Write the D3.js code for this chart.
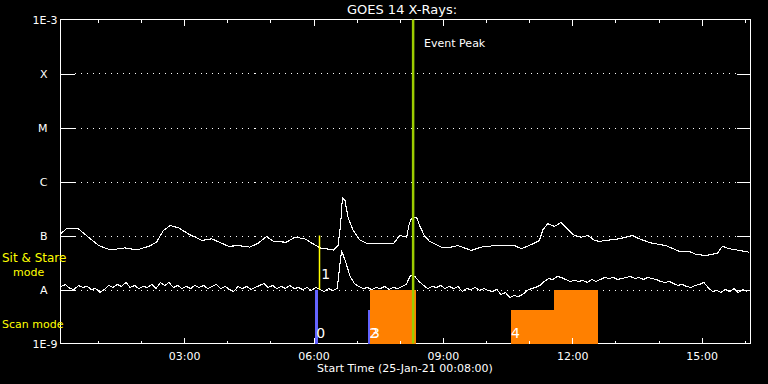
<!DOCTYPE html>
<html>
<head>
<meta charset="utf-8">
<script src="https://cdn.jsdelivr.net/npm/d3@7"></script>
<style>
  html, body { margin: 0; padding: 0; background: #000; }
  svg { display: block; }
  text { font-family: "DejaVu Sans", sans-serif; fill: #fff; }
</style>
</head>
<body>
<script>
// ---------- DATA ----------
// time axis: hours since 25-Jan-21 00:00 UT
const startHour = 8 / 60;           // 00:08:00
const spanHours = 16;
const majorTickHours = [3, 6, 9, 12, 15];
const majorTickLabels = ["03:00", "06:00", "09:00", "12:00", "15:00"];
const minorTickHours = [1, 2, 4, 5, 7, 8, 10, 11, 13, 14, 16];

// flux levels (W/m^2)
const levelValues = [1e-8, 1e-7, 1e-6, 1e-5, 1e-4];
const levelLabels = ["A", "B", "C", "M", "X"];
const endValues = [1e-9, 1e-3];
const endLabels = ["1E-9", "1E-3"];

// GOES 14 long channel (1-8 A)
const longTimes = [0.15,0.27,0.55,0.78,1.02,1.29,1.63,1.90,2.18,2.36,2.52,2.68,2.87,3.10,3.41,3.64,3.87,4.03,4.26,4.52,
  4.72,4.91,5.07,5.37,5.57,5.80,5.99,6.15,6.46,6.57,6.63,6.67,6.73,6.80,6.92,7.07,7.23,7.46,7.85,8.00,
  8.16,8.22,8.27,8.39,8.46,8.57,8.69,8.96,9.11,9.35,9.66,9.89,10.20,10.66,10.82,11.05,11.24,11.32,11.43,11.59,
  11.74,11.90,12.05,12.21,12.36,12.52,12.63,13.09,13.40,13.55,13.82,14.17,14.48,14.71,14.87,15.10,15.37,15.48,15.64,15.87,16.10];
const longFlux = [1.10e-7,1.33e-7,1.33e-7,9.3e-8,6.5e-8,5.4e-8,5.9e-8,5.4e-8,6.3e-8,7.5e-8,1.24e-7,1.53e-7,1.39e-7,1.07e-7,8.1e-8,8.7e-8,7.2e-8,6.3e-8,6.5e-8,6.1e-8,
  7.2e-8,9.6e-8,7.8e-8,7.5e-8,9.3e-8,8.7e-8,7.0e-8,5.9e-8,5.4e-8,6.5e-8,1.65e-7,4.99e-7,4.45e-7,2.18e-7,1.24e-7,8.3e-8,7.2e-8,7.2e-8,7.0e-8,1.0e-7,
  9.3e-8,1.65e-7,2.04e-7,2.18e-7,1.53e-7,1.0e-7,7.8e-8,6.1e-8,5.9e-8,6.5e-8,5.3e-8,6.1e-8,6.5e-8,6.5e-8,5.7e-8,6.8e-8,8.1e-8,1.28e-7,1.65e-7,1.47e-7,
  1.76e-7,1.28e-7,1.0e-7,9.3e-8,1.0e-7,8.1e-8,7.8e-8,8.7e-8,1.0e-7,8.7e-8,7.3e-8,6.5e-8,5.1e-8,5.1e-8,4.45e-8,4.26e-8,4.7e-8,6.3e-8,5.7e-8,5.3e-8,4.9e-8];

// GOES 14 short channel (0.5-4 A), one sample every 6 minutes from 00:09
const shortStart = 0.15;
const shortStep = 0.1;
const shortFlux = [
  1.14e-8,1.24e-8,1.04e-8,1.00e-8,1.19e-8,1.09e-8,1.14e-8,1.00e-8,1.04e-8,0.88e-8,
  1.00e-8,1.19e-8,1.09e-8,1.24e-8,1.14e-8,1.35e-8,1.09e-8,1.19e-8,1.04e-8,1.14e-8,
  1.09e-8,1.24e-8,1.04e-8,1.35e-8,1.19e-8,1.35e-8,1.09e-8,1.19e-8,1.04e-8,1.14e-8,
  1.04e-8,1.19e-8,1.09e-8,1.19e-8,1.04e-8,1.14e-8,1.24e-8,1.04e-8,1.14e-8,1.00e-8,
  0.918e-8,1.14e-8,1.04e-8,1.14e-8,1.00e-8,1.09e-8,1.19e-8,1.29e-8,1.09e-8,1.19e-8,
  1.04e-8,1.14e-8,1.04e-8,1.19e-8,1.04e-8,1.09e-8,1.00e-8,1.09e-8,0.957e-8,1.09e-8,
  1.00e-8,0.918e-8,1.04e-8,0.957e-8,1.04e-8,5.27e-8,3.16e-8,1.74e-8,1.29e-8,1.14e-8,
  1.04e-8,1.09e-8,1.00e-8,1.09e-8,1.04e-8,1.14e-8,1.00e-8,1.09e-8,1.04e-8,1.14e-8,
  1.24e-8,1.82e-8,1.74e-8,1.41e-8,1.19e-8,1.04e-8,1.14e-8,1.09e-8,1.19e-8,1.04e-8,
  1.14e-8,1.04e-8,1.14e-8,0.918e-8,1.04e-8,1.00e-8,1.09e-8,0.957e-8,1.04e-8,0.957e-8,
  0.918e-8,1.00e-8,0.808e-8,0.88e-8,0.711e-8,0.774e-8,0.742e-8,0.808e-8,0.957e-8,1.04e-8,
  1.09e-8,1.19e-8,1.41e-8,1.60e-8,1.53e-8,1.74e-8,1.67e-8,1.53e-8,1.41e-8,1.47e-8,
  1.41e-8,1.47e-8,1.35e-8,1.53e-8,1.41e-8,1.53e-8,1.67e-8,1.60e-8,1.67e-8,1.53e-8,
  1.60e-8,1.67e-8,1.74e-8,1.60e-8,1.67e-8,1.53e-8,1.67e-8,1.60e-8,1.53e-8,1.41e-8,
  1.35e-8,1.41e-8,1.29e-8,1.19e-8,1.24e-8,1.14e-8,1.09e-8,1.19e-8,1.24e-8,1.35e-8,
  1.09e-8,0.918e-8,0.957e-8,0.88e-8,1.00e-8,0.918e-8,1.04e-8,0.88e-8,1.00e-8,0.918e-8];

// event peak
const eventPeakHour = 8.31;
const eventPeakLabel = "Event Peak";

// sit & stare marker (number, hour, flux range)
const stareLabels = ["1"];
const stareHours = [6.12];
const stareLow = [1e-8];
const stareHigh = [1e-7];

// narrow observation bars (blue)
const barLabels = ["0", "2"];
const barStart = [6.04, 7.27];
const barEnd = [6.11, 7.32];
const barTop = [1e-8, 4.1e-9];

// observation blocks (orange)
const blockLabels = ["3", "4", ""];
const blockStart = [7.32, 10.57, 11.57];
const blockEnd = [8.37, 11.57, 12.60];
const blockTop = [1e-8, 4.1e-9, 1e-8];

const titleText = "GOES 14 X-Rays:";
const xTitleText = "Start Time (25-Jan-21 00:08:00)";

// ---------- DRAW ----------
const W = 768, H = 384;
const L = 60.5, R = 750.5, T = 19.5, B = 343.5;

const svg = d3.select("body").append("svg").attr("width", W).attr("height", H)
  .style("background", "#000");

const x = d3.scaleLinear().domain([startHour, startHour + spanHours]).range([L, R]);
const y = d3.scaleLog().domain([1e-9, 1e-3]).range([B, T]);

// frame
svg.append("rect").attr("x", L).attr("y", T).attr("width", R - L).attr("height", B - T)
  .attr("fill", "none").attr("stroke", "#fff").attr("stroke-width", 1)
  .attr("shape-rendering", "crispEdges");

// dotted grid lines
svg.append("g").selectAll("line").data(levelValues).join("line")
  .attr("x1", L + 14).attr("x2", R - 14)
  .attr("y1", d => Math.round(y(d)) + 0.5).attr("y2", d => Math.round(y(d)) + 0.5)
  .attr("stroke", "#fff").attr("stroke-width", 1).attr("stroke-dasharray", "1,5")
  .attr("shape-rendering", "crispEdges");

// curves
svg.append("clipPath").attr("id", "clip").append("rect")
  .attr("x", L).attr("y", T).attr("width", R - L).attr("height", B - T);

const line = d3.line().x(d => x(d[0])).y(d => y(d[1]));
const longData = longTimes.map((t, i) => [t, longFlux[i]]);
const shortData = shortFlux.map((f, i) => [shortStart + i * shortStep, f]);

const curves = svg.append("g").attr("clip-path", "url(#clip)");
[longData, shortData].forEach(dat => {
  curves.append("path").datum(dat).attr("d", line)
    .attr("fill", "none").attr("stroke", "#fff").attr("stroke-width", 1.1)
    .attr("shape-rendering", "crispEdges");
});

// sit & stare marker
stareHours.forEach((h, i) => {
  svg.append("line").attr("x1", Math.round(x(h)) + 0.5).attr("x2", Math.round(x(h)) + 0.5)
    .attr("y1", y(stareHigh[i])).attr("y2", y(stareLow[i]))
    .attr("stroke", "#ffff00").attr("stroke-width", 1.5);
  svg.append("text").attr("x", x(h) + 2.5).attr("y", y(stareLow[i]) - 11)
    .attr("font-size", 14).text(stareLabels[i]);
});

// orange blocks
blockStart.forEach((s, i) => {
  svg.append("rect").attr("x", x(s)).attr("y", y(blockTop[i]))
    .attr("width", x(blockEnd[i]) - x(s)).attr("height", B + 0.5 - y(blockTop[i]))
    .attr("fill", "#ff8000").attr("shape-rendering", "crispEdges");
});
// blue bars
barStart.forEach((s, i) => {
  svg.append("rect").attr("x", x(s)).attr("y", y(barTop[i]))
    .attr("width", x(barEnd[i]) - x(s)).attr("height", B + 0.5 - y(barTop[i]))
    .attr("fill", "#6464ff").attr("shape-rendering", "crispEdges");
});

// axes ticks
const xMinor = d3.axisBottom(x).tickValues(minorTickHours).tickSize(-3).tickFormat("");
const xMajor = d3.axisBottom(x).tickValues(majorTickHours).tickSize(-6).tickPadding(9)
  .tickFormat((d, i) => majorTickLabels[i]);
const xMinorTop = d3.axisTop(x).tickValues(minorTickHours).tickSize(-3).tickFormat("");
const xMajorTop = d3.axisTop(x).tickValues(majorTickHours).tickSize(-6).tickFormat("");
const yLeft = d3.axisLeft(y).tickValues(levelValues).tickSize(-14).tickPadding(13)
  .tickFormat((d, i) => levelLabels[i]);
const yEnds = d3.axisLeft(y).tickValues(endValues).tickSize(0).tickPadding(3)
  .tickFormat((d, i) => endLabels[i]);
const yRight = d3.axisRight(y).tickValues(levelValues).tickSize(-14).tickFormat("");

function styleAxis(g) {
  g.select(".domain").remove();
  g.selectAll("line").attr("stroke", "#fff").attr("shape-rendering", "crispEdges");
  g.selectAll("text").attr("fill", "#fff").attr("font-family", "DejaVu Sans").attr("font-size", 11);
}
svg.append("g").attr("transform", `translate(0,${B})`).call(xMinor).call(styleAxis);
svg.append("g").attr("transform", `translate(0,${B})`).call(xMajor).call(styleAxis);
svg.append("g").attr("transform", `translate(0,${T})`).call(xMinorTop).call(styleAxis);
svg.append("g").attr("transform", `translate(0,${T})`).call(xMajorTop).call(styleAxis);
svg.append("g").attr("transform", `translate(${L},0)`).call(yLeft).call(styleAxis);
svg.append("g").attr("transform", `translate(${L},0)`).call(yEnds).call(styleAxis);
svg.append("g").attr("transform", `translate(${R},0)`).call(yRight).call(styleAxis);

// event peak line
svg.append("line").attr("x1", x(eventPeakHour)).attr("x2", x(eventPeakHour))
  .attr("y1", T).attr("y2", B)
  .attr("stroke", "#9ccc00").attr("stroke-width", 2.5);
svg.append("text").attr("x", x(eventPeakHour) + 11).attr("y", 47)
  .attr("font-size", 11).text(eventPeakLabel);

// bar / block number labels
barStart.forEach((s, i) => {
  svg.append("text").attr("x", x(s) + 1).attr("y", 338).attr("font-size", 14).text(barLabels[i]);
});
blockStart.forEach((s, i) => {
  svg.append("text").attr("x", x(s) + 0.5).attr("y", 338).attr("font-size", 14).text(blockLabels[i]);
});

// titles
svg.append("text").attr("x", 402).attr("y", 14).attr("text-anchor", "middle")
  .attr("font-size", 13).text(titleText);
svg.append("text").attr("x", 405).attr("y", 372).attr("text-anchor", "middle")
  .attr("font-size", 11).text(xTitleText);

// mode labels (yellow)
svg.append("text").attr("x", 2).attr("y", 262).attr("font-size", 12).style("fill", "#ffff00").text("Sit & Stare");
svg.append("text").attr("x", 13).attr("y", 276).attr("font-size", 11).style("fill", "#ffff00").text("mode");
svg.append("text").attr("x", 2).attr("y", 328).attr("font-size", 11).style("fill", "#ffff00").text("Scan mode");
</script>
</body>
</html>
